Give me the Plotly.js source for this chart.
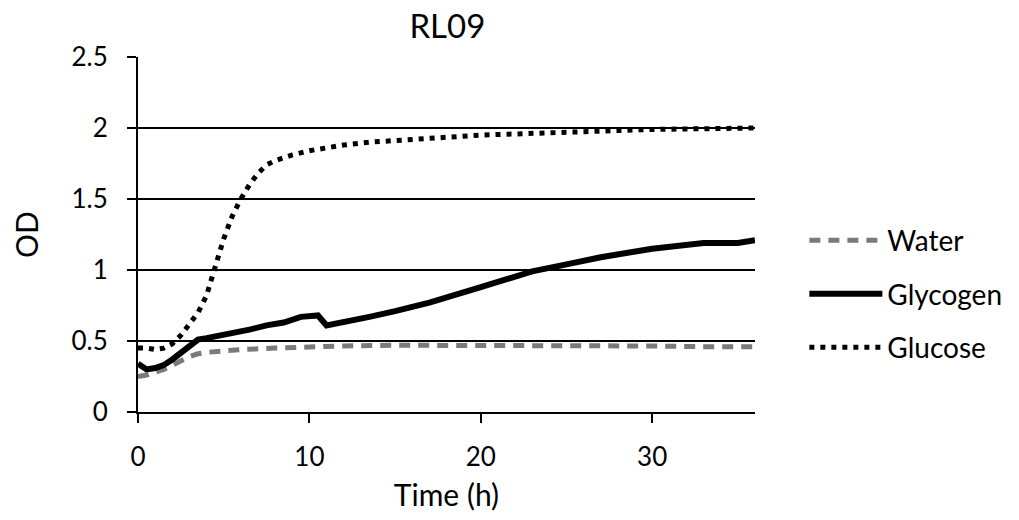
<!DOCTYPE html>
<html><head><meta charset="utf-8">
<script src="https://cdn.plot.ly/plotly-3.0.1.min.js"></script>
<style>body{margin:0;background:#fff}#c{width:1019px;height:520px}</style>
</head><body><div id="c"></div>
<script>
const waterT = [0, 0.5, 1, 1.5, 2, 2.5, 3, 3.5, 4, 5, 6, 8, 10, 12, 15, 20, 25, 30, 33, 36];
const waterOD = [0.25, 0.26, 0.28, 0.30, 0.33, 0.36, 0.39, 0.41, 0.42, 0.43, 0.44, 0.45, 0.46, 0.465, 0.47, 0.47, 0.47, 0.465, 0.46, 0.46];

const glycT = [0, 0.5, 1, 1.5, 2, 2.5, 3, 3.5, 4, 4.5, 5, 5.5, 6.5, 7.5, 8.5, 9.5, 10.5, 11, 12, 13.5, 15, 17, 20, 22, 23, 25, 27, 30, 33, 35, 36];
const glycOD = [0.34, 0.30, 0.31, 0.33, 0.37, 0.42, 0.46, 0.51, 0.52, 0.53, 0.55, 0.56, 0.58, 0.61, 0.63, 0.67, 0.68, 0.61, 0.63, 0.67, 0.71, 0.77, 0.88, 0.95, 0.99, 1.04, 1.09, 1.15, 1.19, 1.19, 1.21];

const glucT = [0, 0.5, 1, 1.5, 2, 2.5, 3, 3.5, 4, 4.5, 5, 5.5, 6, 6.5, 7, 7.5, 8, 9, 10, 11, 12, 13.5, 16, 20, 25, 30, 36];
const glucOD = [0.45, 0.45, 0.44, 0.45, 0.48, 0.54, 0.62, 0.70, 0.82, 1.02, 1.22, 1.38, 1.50, 1.60, 1.68, 1.74, 1.77, 1.81, 1.84, 1.86, 1.88, 1.90, 1.92, 1.95, 1.97, 1.99, 2.00];

const xTicks = [0, 10, 20, 30];
const yTicks = [0, 0.5, 1, 1.5, 2, 2.5];
const yTickLabels = ['0', '0.5', '1', '1.5', '2', '2.5'];

const font = 'Lato, "Open Sans", sans-serif';

const traces = [
  {x: waterT, y: waterOD, name: 'Water', mode: 'lines', legendgroup: 'a',
   line: {color: '#7a7a7a', width: 5, dash: '11px,8px'}},
  {x: glycT, y: glycOD, name: 'Glycogen', mode: 'lines', legendgroup: 'b',
   line: {color: '#000', width: 6}},
  {x: glucT, y: glucOD, name: 'Glucose', mode: 'lines', legendgroup: 'c',
   line: {color: '#000', width: 5, dash: '5px,6px'}}
];

const layout = {
  width: 1019, height: 520,
  margin: {l: 138, r: 262, t: 57, b: 108},
  paper_bgcolor: '#fff', plot_bgcolor: '#fff',
  font: {family: font, color: '#000', size: 26},
  title: {text: 'RL09', font: {family: font, size: 33, color: '#000'}, x: 0.439, xanchor: 'center', y: 0.95, yanchor: 'middle'},
  xaxis: {
    range: [0, 36], tickvals: xTicks, ticks: 'outside', ticklen: 9, tickwidth: 2, tickcolor: '#000',
    showline: true, linecolor: '#000', linewidth: 2, showgrid: false, zeroline: false,
    tickfont: {family: font, size: 26}, ticklabelstandoff: 12,
    title: {text: 'Time (h)', font: {family: font, size: 30}, standoff: 14}
  },
  yaxis: {
    range: [0, 2.5], tickvals: yTicks, ticktext: yTickLabels, ticks: 'outside', ticklen: 9, tickwidth: 2, tickcolor: '#000',
    showline: true, linecolor: '#000', linewidth: 2, showgrid: true, gridcolor: '#000', gridwidth: 2, zeroline: false,
    tickfont: {family: font, size: 26}, ticklabelstandoff: 14,
    title: {text: 'OD', font: {family: font, size: 30}, standoff: 24}
  },
  legend: {x: 1.08, xanchor: 'left', y: 0.332, yanchor: 'middle', font: {family: font, size: 28},
           itemwidth: 73, tracegroupgap: 14, bgcolor: 'rgba(0,0,0,0)'},
  showlegend: true
};

Plotly.newPlot('c', traces, layout, {displayModeBar: false, staticPlot: true});
</script></body></html>
